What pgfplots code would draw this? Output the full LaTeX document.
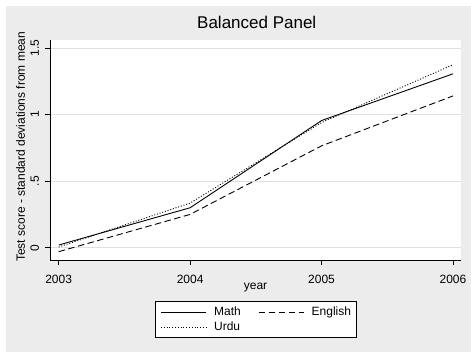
\documentclass[border=0pt]{standalone}
\usepackage{pgfplots}
\pgfplotsset{compat=1.18}
\usepackage{fontspec}
\setmainfont{Liberation Sans}
\definecolor{bggray}{RGB}{236,236,236}
\definecolor{gridgray}{RGB}{225,225,225}
\begin{document}
\begin{tikzpicture}
\fill[white] (0pt,0pt) rectangle (471pt,-353pt);
\fill[bggray] (6pt,-6pt) rectangle (471pt,-352pt);
\begin{axis}[
  at={(50pt,-260pt)}, anchor=south west,
  scale only axis, width=411pt, height=220pt,
  xmin=2002.934, xmax=2006.061,
  ymin=-0.0925, ymax=1.56,
  axis background/.style={fill=white},
  axis x line*=bottom, axis y line*=left,
  axis line style={black, line width=0.8pt},
  tick align=outside, major tick length=5pt,
  tick style={black, line width=0.8pt},
  xtick={2003,2004,2005,2006},
  xticklabels={2003,2004,2005,2006},
  ytick={0,0.5,1,1.5},
  yticklabels={0,.5,1,1.5},
  yticklabel style={xshift=-2.5pt, rotate=90, anchor=south, font=\fontsize{12}{14}\selectfont},
  xticklabel style={anchor=base, yshift=-18.7pt, font=\fontsize{12}{14}\selectfont},
  ymajorgrids, grid style={gridgray, line width=0.8pt},
  xlabel={year},
  xlabel style={font=\fontsize{12}{14}\selectfont, at={(axis description cs:0.5,0)}, anchor=base, yshift=-29pt},
  ylabel={Test score - standard deviations from mean},
  ylabel style={font=\fontsize{12}{14}\selectfont, at={(axis description cs:-0.061,0.514)}, anchor=base, rotate=0},
  title={Balanced Panel},
  title style={font=\fontsize{17}{19}\selectfont, at={(axis description cs:0.503,1)}, anchor=base, yshift=6pt},
  legend columns=2,
  legend style={at={(axis description cs:0.5008,-0.272)}, anchor=center,
    draw=black, line width=0.8pt, fill=white,
    font=\fontsize{12}{14}\selectfont,
    inner xsep=5pt, inner ysep=3pt, row sep=0pt,
    nodes={inner xsep=0pt, inner ysep=1.5pt, text height=9pt, text depth=3pt},
    /tikz/every odd column/.append style={column sep=7.7pt},
    /tikz/every even column/.append style={column sep=17.4pt}},
  legend cell align=left,
  legend image code/.code={\draw[#1, line width=0.8pt] (0pt,0pt) -- (45pt,0pt);},
]
\addplot[black, line width=0.9pt] coordinates {(2003,0.02) (2004,0.30) (2005,0.955) (2006,1.306)};
\addlegendentry{Math}
\addplot[black, line width=0.9pt, dash pattern=on 6.5pt off 3.5pt] coordinates {(2003,-0.03) (2004,0.25) (2005,0.765) (2006,1.14)};
\addlegendentry{English}
\addplot[black, line width=0.9pt, dash pattern=on 1pt off 1.8pt] coordinates {(2003,0.005) (2004,0.335) (2005,0.94) (2006,1.374)};
\addlegendentry{Urdu}
\end{axis}
\end{tikzpicture}
\end{document}
